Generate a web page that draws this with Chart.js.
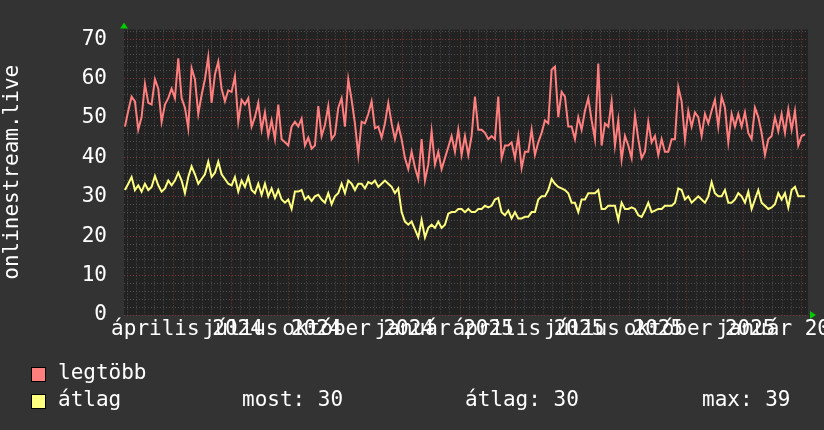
<!DOCTYPE html>
<html>
<head>
<meta charset="utf-8">
<script src="https://cdn.jsdelivr.net/npm/chart.js@4.4.1/dist/chart.umd.min.js"></script>
<style>
  html, body { margin: 0; padding: 0; background: #333333; }
  #wrap { position: relative; width: 824px; height: 430px; overflow: hidden; }
  #chart { position: absolute; left: 0; top: 0; }
  .leg { position: absolute; font: 21px/21px "DejaVu Sans Mono", monospace; color: #ffffff; white-space: pre; }
  .sw { position: absolute; width: 15px; height: 15px; border: 1px solid #000; box-sizing: border-box; }
</style>
</head>
<body>
<div id="wrap">
  <canvas id="chart" width="824" height="430"></canvas>
  <div class="sw" style="left:31px;top:367px;background:#ff7f7f"></div>
  <div class="leg" style="left:58px;top:362px">legtöbb</div>
  <div class="sw" style="left:31px;top:394px;background:#ffff7f"></div>
  <div class="leg" style="left:58px;top:389px">átlag</div>
  <div class="leg" id="stat-now" style="left:242px;top:389px"></div>
  <div class="leg" id="stat-avg" style="left:465px;top:389px"></div>
  <div class="leg" id="stat-max" style="left:702px;top:389px"></div>
</div>
<script>
// days are counted from 2024-04-01
const startDay = -52.4;
const stepDays = 3.563;

const quarterDates = [[2024, 4], [2024, 7], [2024, 10], [2025, 1], [2025, 4], [2025, 7], [2025, 10], [2026, 1]];
const quarterLabels = ["április 2024", "július 2024", "október 2024", "január 2025",
  "április 2025", "július 2025", "október 2025", "január 2026"];

const yTicks = [0, 10, 20, 30, 40, 50, 60, 70];

// legtöbb (max)
const maxValues = [
  47.8, 51.8, 55.4, 54.2, 47.0, 50.2, 58.6, 53.8, 53.4, 59.8,
  57.4, 49.0, 53.4, 55.0, 57.4, 55.0, 65.1, 55.0, 52.6, 47.4,
  62.6, 59.8, 51.0, 55.8, 59.8, 65.5, 53.8, 61.0, 64.3, 57.4,
  54.2, 57.0, 56.6, 60.6, 49.0, 54.6, 53.4, 55.0, 47.8, 50.2,
  53.8, 47.0, 51.4, 45.4, 49.4, 44.6, 53.4, 44.6, 43.8, 43.0,
  47.8, 49.0, 47.8, 49.8, 43.0, 45.0, 42.2, 43.0, 53.0, 45.4,
  48.2, 53.0, 44.6, 45.8, 52.6, 55.0, 47.8, 59.8, 54.6, 48.6,
  40.6, 49.0, 48.6, 51.0, 54.2, 47.4, 47.8, 45.0, 48.6, 53.8,
  48.6, 44.6, 48.2, 44.6, 39.8, 37.0, 41.4, 37.4, 34.5,
  44.6, 34.1, 38.2, 46.6, 38.2, 41.4, 37.0, 39.8, 42.6, 45.4,
  41.4, 47.0, 40.6, 45.4, 40.6, 45.4, 55.4, 47.0, 47.0, 46.2,
  44.6, 45.4, 44.6, 55.4, 39.8, 43.0, 43.0, 43.8, 39.8, 45.4,
  37.3, 41.4, 41.4, 47.0, 40.6, 43.8, 46.2, 49.4, 48.6, 62.2,
  63.0, 50.2, 56.6, 55.4, 47.8, 47.8, 44.6, 50.2, 47.0, 51.8,
  55.0, 49.4, 44.6, 63.8, 43.0, 48.6, 47.8, 54.2, 43.0, 49.4,
  39.4, 45.4, 43.0, 39.8, 50.6, 44.6, 39.8, 41.4, 49.0, 43.8,
  45.4, 40.6, 44.6, 41.4, 41.4, 44.6, 44.6, 57.8, 54.2, 44.6,
  51.8, 47.8, 51.4, 50.2, 45.4, 51.0, 48.6, 51.8, 54.6, 47.8,
  55.4, 52.6, 43.8, 51.0, 47.8, 51.0, 47.8, 51.4, 46.2, 44.6,
  52.6, 50.2, 46.2, 40.6, 44.6, 45.4, 50.2, 46.6, 51.0, 46.2,
  52.2, 47.0, 51.8, 43.0, 45.4, 45.8
];

// átlag (average)
const avgValues = [
  31.7, 33.3, 35.0, 31.7, 32.9, 31.3, 33.3, 31.7, 32.5, 35.3,
  32.9, 31.3, 32.1, 34.1, 32.9, 34.1, 36.1, 34.1, 30.9, 35.0,
  37.7, 35.7, 33.3, 34.5, 35.7, 38.9, 35.0, 36.1, 38.9, 35.7,
  34.5, 33.3, 32.9, 35.0, 31.3, 34.1, 32.5, 35.0, 31.7, 30.9,
  33.3, 30.5, 33.3, 30.1, 32.1, 29.7, 31.7, 29.3, 28.5, 29.3,
  26.9, 31.3, 31.3, 31.7, 29.3, 30.1, 28.9, 30.1, 30.5, 29.3,
  28.5, 30.9, 28.1, 30.1, 30.9, 33.3, 30.9, 34.1, 33.3, 31.7,
  33.3, 33.3, 32.1, 33.7, 33.3, 34.1, 32.5, 33.3, 34.1, 33.3,
  32.5, 30.9, 32.1, 26.1, 23.7, 22.9, 23.7, 21.7, 19.7,
  24.1, 19.7, 22.1, 22.9, 22.1, 23.7, 22.1, 22.9, 25.7, 26.1,
  26.1, 26.9, 26.9, 26.1, 26.9, 26.1, 26.1, 26.9, 26.9, 27.7,
  27.3, 27.7, 29.3, 29.7, 26.1, 25.3, 26.5, 24.5, 26.1, 24.5,
  24.5, 24.9, 24.9, 26.1, 26.1, 29.3, 30.1, 30.1, 31.7, 34.5,
  33.3, 32.5, 32.1, 31.7, 30.9, 28.5, 28.5, 26.1, 29.3, 29.3,
  30.9, 30.9, 30.9, 31.7, 26.9, 26.9, 27.7, 27.7, 27.7, 24.1,
  28.5, 26.9, 26.9, 27.3, 26.9, 25.3, 24.9, 26.5, 28.5, 26.1,
  26.5, 26.9, 26.9, 27.7, 27.7, 27.7, 28.5, 32.1, 31.7, 29.3,
  30.1, 28.5, 29.3, 30.1, 29.3, 28.5, 30.1, 33.7, 30.9, 30.1,
  30.1, 31.7, 28.5, 28.5, 29.3, 30.9, 30.1, 28.5, 31.3, 26.9,
  29.3, 31.7, 28.5, 27.7, 26.9, 27.3, 28.1, 30.9, 29.3, 30.9,
  27.3, 31.7, 32.5, 30.1, 30.1, 30.1
];

const dayOf = (y, m, d) => (Date.UTC(y, m - 1, d) - Date.UTC(2024, 3, 1)) / 86400000;

const xMin = -53.4;
const xMax = 677.7;

// grid: 1st, 11th, 21st of each month, red on the 1st of even months
let xGrid = [];
let xMajor = new Set();
for (let y = 2024; y <= 2026; y++) {
  for (let m = 1; m <= 12; m++) {
    for (const d of [1, 11, 21]) {
      const v = dayOf(y, m, d);
      if (v >= xMin && v <= xMax) {
        xGrid.push(v);
        if (d === 1 && m % 2 === 0) xMajor.add(v);
      }
    }
  }
}
const labelAt = {};
quarterDates.forEach(([y, m], i) => { labelAt[dayOf(y, m, 1)] = quarterLabels[i]; });

const toPoints = (values) => values.map((v, i) => ({ x: startDay + i * stepDays, y: v }));

const last = avgValues[avgValues.length - 1];
const mean = avgValues.reduce((a, b) => a + b, 0) / avgValues.length;
const peak = Math.max(...avgValues);
document.querySelector("#stat-now").textContent = `most: ${Math.round(last)}`;
document.querySelector("#stat-avg").textContent = `átlag: ${Math.round(mean)}`;
document.querySelector("#stat-max").textContent = `max: ${Math.round(peak)}`;

const minorColor = "#4e4e4e";
const majorColor = "#7a3838";

const plotBackground = {
  id: "plotBackground",
  beforeDraw(chart) {
    const { ctx, chartArea } = chart;
    ctx.save();
    ctx.fillStyle = "#222222";
    ctx.fillRect(chartArea.left, chartArea.top, chartArea.right - chartArea.left, chartArea.bottom - chartArea.top);
    ctx.restore();
  },
  afterDraw(chart) {
    const { ctx, chartArea } = chart;
    ctx.save();
    ctx.fillStyle = "#00cc00";
    // arrow on the y axis
    ctx.beginPath();
    ctx.moveTo(chartArea.left - 4, chartArea.top - 1);
    ctx.lineTo(chartArea.left + 4, chartArea.top - 1);
    ctx.lineTo(chartArea.left, chartArea.top - 7);
    ctx.closePath();
    ctx.fill();
    // arrow on the x axis
    ctx.beginPath();
    ctx.moveTo(chartArea.right + 2, chartArea.bottom - 4);
    ctx.lineTo(chartArea.right + 2, chartArea.bottom + 4);
    ctx.lineTo(chartArea.right + 8, chartArea.bottom);
    ctx.closePath();
    ctx.fill();
    ctx.restore();
  },
};

const config = {
  type: "line",
  data: {
    datasets: [
      {
        label: "legtöbb",
        data: toPoints(maxValues),
        borderColor: "#ff7f7f",
        borderWidth: 2,
        pointRadius: 0,
        tension: 0,
      },
      {
        label: "átlag",
        data: toPoints(avgValues),
        borderColor: "#ffff7f",
        borderWidth: 2,
        pointRadius: 0,
        tension: 0,
      },
    ],
  },
  options: {
    responsive: false,
    animation: false,
    devicePixelRatio: 1,
    layout: { padding: { top: 14, right: 16, left: 0, bottom: 0 } },
    plugins: { legend: { display: false }, tooltip: { enabled: false } },
    scales: {
      x: {
        type: "linear",
        min: xMin,
        max: xMax,
        afterBuildTicks: (scale) => {
          scale.ticks = xGrid.map((v) => ({ value: v }));
        },
        afterFit: (scale) => {
          scale.height = 115;
          scale.paddingLeft = 0;
          scale.paddingRight = 0;
        },
        ticks: {
          autoSkip: false,
          maxRotation: 0,
          minRotation: 0,
          padding: 2,
          labelOffset: 13,
          color: "#ffffff",
          font: { family: "DejaVu Sans Mono", size: 21 },
          callback: (value) => labelAt[value] || "",
        },
        grid: {
          drawTicks: false,
          color: (ctx) => (ctx.tick && xMajor.has(ctx.tick.value) ? majorColor : minorColor),
        },
        border: { display: false, dash: [1, 2] },
      },
      y: {
        min: 0,
        max: 72.4,
        afterBuildTicks: (scale) => {
          let t = [];
          for (let v = 0; v <= 72; v += 2) t.push({ value: v });
          scale.ticks = t;
        },
        afterFit: (scale) => {
          scale.width = 124;
        },
        ticks: {
          autoSkip: false,
          padding: 17,
          color: "#ffffff",
          font: { family: "DejaVu Sans Mono", size: 21 },
          callback: (value) => (yTicks.includes(value) ? String(value) : ""),
        },
        grid: {
          drawTicks: false,
          color: (ctx) => (ctx.tick && ctx.tick.value % 10 === 0 ? majorColor : minorColor),
        },
        border: { display: false, dash: [1, 2] },
        title: {
          display: true,
          text: "onlinestream.live",
          color: "#ffffff",
          font: { family: "DejaVu Sans Mono", size: 21 },
          padding: { top: 0, bottom: 0 },
        },
      },
    },
  },
  plugins: [plotBackground],
};

new Chart(document.querySelector("#chart"), config);
</script>
</body>
</html>
